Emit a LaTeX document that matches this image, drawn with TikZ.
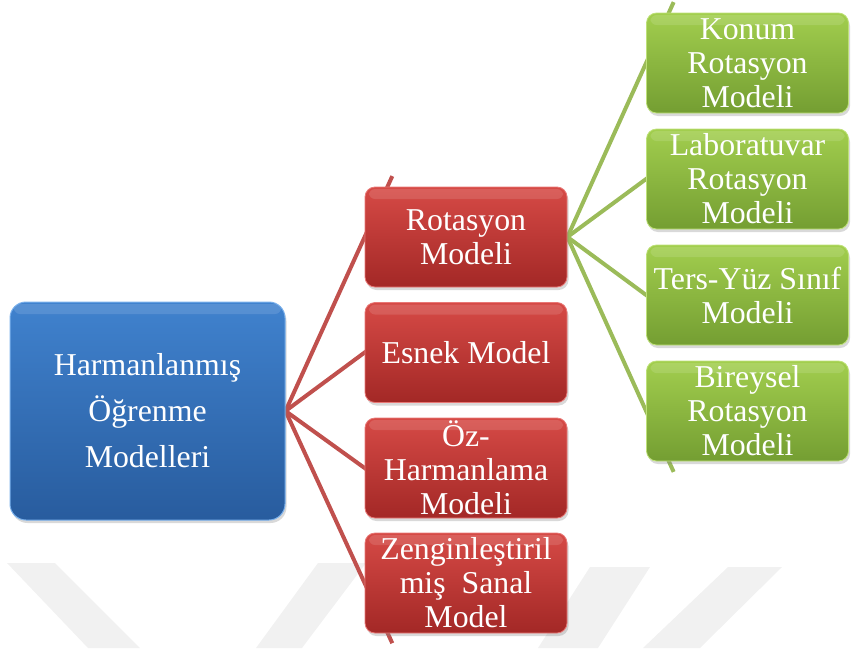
\documentclass[tikz,border=0pt]{standalone}
\usepackage{fontspec}
\setmainfont{Liberation Serif}
\usetikzlibrary{calc,shadows}

\definecolor{blueTop}{RGB}{64,130,206}
\definecolor{blueBot}{RGB}{40,92,158}
\definecolor{blueEdge}{RGB}{120,175,235}
\definecolor{redTop}{RGB}{214,74,70}
\definecolor{redBot}{RGB}{163,40,38}
\definecolor{redEdge}{RGB}{232,120,118}
\definecolor{greenTop}{RGB}{162,206,78}
\definecolor{greenBot}{RGB}{116,158,50}
\definecolor{greenEdge}{RGB}{190,225,120}
\definecolor{redLink}{RGB}{192,80,77}
\definecolor{greenLink}{RGB}{155,187,89}
\definecolor{bandGray}{RGB}{241,241,241}

\newcommand\boxfont{\fontsize{31.8}{34}\selectfont}
\newcommand\rootfont{\fontsize{31.8}{46}\selectfont}

\pgfdeclarelayer{background}
\pgfsetlayers{background,main}

\begin{document}
\begin{tikzpicture}[x=1pt,y=-1pt,
  gloss/.style={path picture={
    \fill[white,opacity=0.12,rounded corners=6pt]
      ([xshift=4pt,yshift=-2pt]path picture bounding box.north west) rectangle
      ([xshift=-4pt,yshift=-12pt]path picture bounding box.north east);}},
  childbox/.style={rounded corners=10pt, minimum width=202pt, minimum height=100pt,
    inner sep=0pt, text=white, align=center, font=\boxfont, line width=0.8pt, gloss,
    drop shadow={opacity=0.3,shadow xshift=1.5pt,shadow yshift=-3pt}},
  redbox/.style={childbox, top color=redTop, bottom color=redBot, draw=redEdge},
  greenbox/.style={childbox, top color=greenTop, bottom color=greenBot, draw=greenEdge},
  rootbox/.style={rounded corners=16pt, minimum width=275pt, minimum height=218pt,
    inner sep=0pt, text=white, align=center, font=\rootfont, line width=1pt, gloss,
    top color=blueTop, bottom color=blueBot, draw=blueEdge,
    drop shadow={opacity=0.3,shadow xshift=1.5pt,shadow yshift=-3pt}},
  redlink/.style={draw=redLink, line width=4pt},
  greenlink/.style={draw=greenLink, line width=4pt},
  bandfill/.style={fill=bandGray, draw=none}]

\useasboundingbox (0,0) rectangle (851,648);

% root of the hierarchy
\node[rootbox] (root) at (147.5,411) {Harmanlanmış\\Öğrenme\\Modelleri};

% second level
\node[redbox] (r1) at (466,237)   {Rotasyon\\Modeli};
\node[redbox] (r2) at (466,352.5) {Esnek Model};
\node[redbox] (r3) at (466,468)   {Öz-\\Harmanlama\\Modeli};
\node[redbox] (r4) at (466,583)   {Zenginleştiril\\miş\ \ Sanal\\Model};

% third level, under the rotation model
\node[greenbox] (g1) at (747.5,63)  {Konum\\Rotasyon\\Modeli};
\node[greenbox] (g2) at (747.5,179) {Laboratuvar\\Rotasyon\\Modeli};
\node[greenbox] (g3) at (747.5,295) {Ters-Yüz Sınıf\\Modeli};
\node[greenbox] (g4) at (747.5,411) {Bireysel\\Rotasyon\\Modeli};

\begin{pgfonlayer}{background}
  % faint chevron bands along the bottom
  \fill[bandfill] (7,563) -- (55,563) -- (140,648) -- (88,648) -- cycle;
  \fill[bandfill] (318,563) -- (366,563) -- (302,648) -- (256,648) -- cycle;
  \fill[bandfill] (590,567) -- (650,567) -- (598,648) -- (538,648) -- cycle;
  \fill[bandfill] (728,567) -- (782,567) -- (700,648) -- (643,648) -- cycle;

  % connectors, running on behind the boxes
  \foreach \c in {r1,r2,r3,r4}
    \draw[redlink] (root.east) -- ($(root.east)!1.35!(\c.west)$);
  \foreach \c in {g1,g2,g3,g4}
    \draw[greenlink] (r1.east) -- ($(r1.east)!1.35!(\c.west)$);
\end{pgfonlayer}
\end{tikzpicture}
\end{document}
